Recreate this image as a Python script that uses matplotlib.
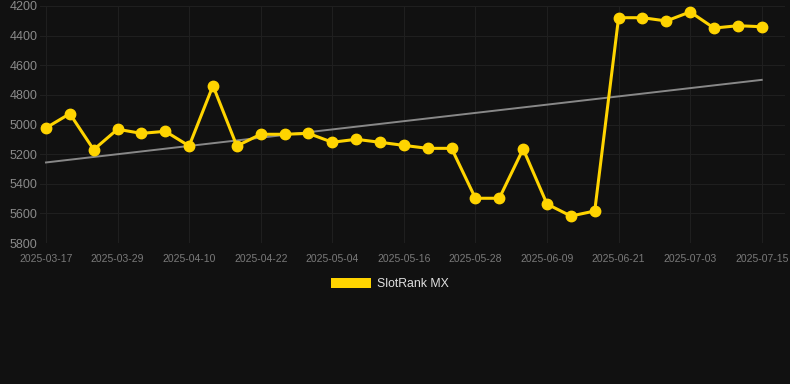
import numpy as np
import pandas as pd
import matplotlib
matplotlib.use("Agg")
import matplotlib.pyplot as plt
import matplotlib.dates as mdates
from matplotlib.patches import Patch

plt.rcParams["font.family"] = ["Liberation Sans", "DejaVu Sans"]

# data
dates = pd.date_range("2025-03-17", "2025-07-15", freq="4D")
rank = [5023, 4927, 5170, 5032, 5060, 5046, 5145, 4738, 5145, 5066,
        5066, 5060, 5120, 5100, 5120, 5141, 5161, 5161, 5498, 5498,
        5165, 5537, 5618, 5584, 4279, 4279, 4301, 4240, 4349, 4333, 4340]
tick_dates = pd.date_range("2025-03-17", "2025-07-15", freq="12D")
y_ticks = [4200, 4400, 4600, 4800, 5000, 5200, 5400, 5600, 5800]

BG = "#111111"
GOLD = "#FFD400"

fig = plt.figure(figsize=(7.9, 3.84), dpi=100, facecolor=BG)
ax = fig.add_axes([40 / 790, 1 - 243 / 384, 745 / 790, 237 / 384])
ax.set_facecolor(BG)

x = mdates.date2num(dates)
ax.plot(dates, rank, color=GOLD, lw=2.2, marker="o", ms=7.5, zorder=3)

# trend line (least squares)
k, b = np.polyfit(x, rank, 1)
ax.plot(dates[[0, -1]], k * x[[0, -1]] + b, color="#888888", lw=1.4, zorder=2)

ax.set_ylim(5800, 4200)
ax.set_yticks(y_ticks)
ax.set_xticks(tick_dates)
ax.set_xticklabels([d.strftime("%Y-%m-%d") for d in tick_dates])
ax.set_xlim(x[0] - 1.0, x[-1] + 3.9)

ax.grid(True, color="#1f1f1f", lw=0.8)
for s in ax.spines.values():
    s.set_visible(False)
ax.tick_params(length=0)
ax.tick_params(axis="y", labelsize=9, labelcolor="#8a8a8a", pad=0)
ax.tick_params(axis="x", labelsize=7.5, labelcolor="#7a7a7a", pad=8)
for lab in ax.get_yticklabels():
    lab.set_horizontalalignment("left")
    lab.set_x(-30 / 745)

leg = fig.legend(handles=[Patch(facecolor=GOLD, label="SlotRank MX")],
                 loc="center", bbox_to_anchor=(390 / 790, 1 - 284 / 384),
                 frameon=False, fontsize=8.8, labelcolor="#e0e0e0",
                 handlelength=3.3, handleheight=0.9, handletextpad=0.5)

fig.savefig("out.png", dpi=100, facecolor=BG)
